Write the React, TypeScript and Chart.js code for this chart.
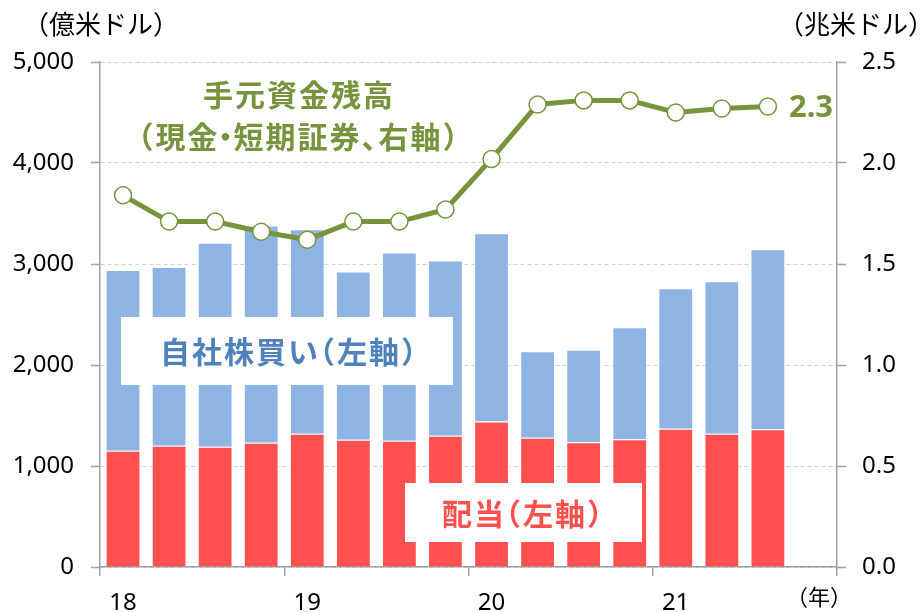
import React, { useEffect, useRef } from "react";
import { Chart, registerables } from "chart.js";

Chart.register(...registerables);

const categories = [
  "18Q1", "18Q2", "18Q3", "18Q4",
  "19Q1", "19Q2", "19Q3", "19Q4",
  "20Q1", "20Q2", "20Q3", "20Q4",
  "21Q1", "21Q2", "21Q3", "21Q4",
];
const yearLabels = ["18", "19", "20", "21"];
const dividends = [1150, 1200, 1190, 1230, 1320, 1260, 1250, 1300, 1440, 1280, 1235, 1265, 1370, 1320, 1365, null];
const buybacks = [1790, 1770, 2020, 2150, 2025, 1665, 1865, 1735, 1865, 855, 915, 1110, 1390, 1510, 1780, null];
const cashHoldings = [1.84, 1.71, 1.71, 1.66, 1.62, 1.71, 1.71, 1.77, 2.02, 2.29, 2.31, 2.31, 2.25, 2.27, 2.28, null];

const leftUnit = "（億米ドル）";
const rightUnit = "（兆米ドル）";
const xUnit = "（年）";
const cashTitle1 = "手元資金残高";
const cashTitle2 = "（現金・短期証券、右軸）";
const buybackLabel = "自社株買い（左軸）";
const dividendLabel = "配当（左軸）";
const lastCashLabel = "2.3";

const RED = "#FF5050";
const BLUE = "#8EB4E3";
const GREEN = "#77933C";
const BLUE_TEXT = "#4F81BD";
const AXIS = "#a0a0a0";
const GRID = "#d0d0d0";
const CJK = "'Noto Sans CJK JP', 'Noto Sans', sans-serif";
const LATIN = "'Noto Sans', 'DejaVu Sans', sans-serif";

// proportional trimming (in em) for full-width punctuation: [left, right]
const TRIM: Record<string, [number, number]> = {
  "（": [0.5, 0],
  "）": [0, 0.5],
  "・": [0.3, 0.3],
  "、": [0, 0.5],
};

function drawProportional(
  ctx: CanvasRenderingContext2D,
  text: string,
  cx: number,
  cy: number,
  size: number,
  spacing: number
) {
  const chars = Array.from(text);
  const items = chars.map((ch) => {
    const w = ctx.measureText(ch).width;
    const [l, r] = TRIM[ch] || [0, 0];
    return { ch, w, l: l * size, r: r * size };
  });
  let total = 0;
  items.forEach((it, i) => {
    total += it.w - it.l - it.r;
    if (i < items.length - 1) total += spacing;
  });
  let x = cx - total / 2;
  ctx.textAlign = "left";
  ctx.textBaseline = "middle";
  items.forEach((it) => {
    ctx.fillText(it.ch, x - it.l, cy);
    x += it.w - it.l - it.r + spacing;
  });
}

const annotationPlugin = {
  id: "annotations",
  afterDatasetsDraw(chart: any) {
    const ctx = chart.ctx as CanvasRenderingContext2D;
    ctx.save();
    // white label boxes
    ctx.fillStyle = "#ffffff";
    ctx.fillRect(121, 317, 332, 68);
    ctx.fillRect(405, 483, 237, 59);

    ctx.font = `bold 30px ${CJK}`;
    ctx.fillStyle = BLUE_TEXT;
    drawProportional(ctx, buybackLabel, 288, 352, 30, 2);
    ctx.fillStyle = RED;
    drawProportional(ctx, dividendLabel, 522, 514, 30, 2);
    ctx.fillStyle = GREEN;
    drawProportional(ctx, cashTitle1, 298, 95, 30, 2);
    drawProportional(ctx, cashTitle2, 298, 137, 30, 2);

    // last value label next to final point
    const meta = chart.getDatasetMeta(2);
    let lastIdx = -1;
    cashHoldings.forEach((v, i) => { if (v !== null) lastIdx = i; });
    const pt = meta.data[lastIdx];
    if (pt) {
      ctx.textAlign = "left";
      ctx.textBaseline = "middle";
      ctx.font = `bold 31px ${LATIN}`;
      ctx.fillStyle = GREEN;
      ctx.fillText(lastCashLabel, pt.x + 21, pt.y + 2);
    }

    // unit labels
    ctx.fillStyle = "#000";
    ctx.textAlign = "center";
    ctx.textBaseline = "middle";
    ctx.font = `26px ${CJK}`;
    ctx.fillText(leftUnit, 101, 24);
    ctx.fillText(rightUnit, 856, 24);
    ctx.font = `22px ${CJK}`;
    ctx.fillText(xUnit, 819, 597);
    ctx.restore();
  },
};

export default function App() {
  const ref = useRef<HTMLCanvasElement | null>(null);
  useEffect(() => {
    if (!ref.current) return;
    const chart = new Chart(ref.current, {
      type: "bar",
      data: {
        labels: categories,
        datasets: [
          {
            type: "bar",
            label: "配当",
            data: dividends as any,
            backgroundColor: RED,
            borderColor: "rgba(255,255,255,0.75)",
            borderWidth: 1,
            yAxisID: "y",
            stack: "s",
            order: 2,
            barPercentage: 0.755,
            categoryPercentage: 1,
          },
          {
            type: "bar",
            label: "自社株買い",
            data: buybacks as any,
            backgroundColor: BLUE,
            borderColor: "rgba(255,255,255,0.75)",
            borderWidth: 1,
            yAxisID: "y",
            stack: "s",
            order: 2,
            barPercentage: 0.755,
            categoryPercentage: 1,
          },
          {
            type: "line",
            label: "手元資金残高",
            data: cashHoldings as any,
            borderColor: GREEN,
            borderWidth: 5,
            pointRadius: 8.5,
            pointBorderWidth: 1.5,
            pointBackgroundColor: "#ffffff",
            pointBorderColor: GREEN,
            yAxisID: "y1",
            order: 0,
            tension: 0,
          } as any,
        ],
      },
      options: {
        responsive: false,
        animation: false,
        devicePixelRatio: 1,
        layout: { padding: { top: 62, left: 0, right: 0, bottom: 0 } },
        plugins: {
          legend: { display: false },
          tooltip: { enabled: false },
        },
        scales: {
          x: {
            type: "category",
            stacked: true,
            offset: true,
            grid: {
              offset: true,
              drawOnChartArea: false,
              drawTicks: true,
              tickLength: 9,
              color: (c: any) =>
                c.index === undefined || c.index % 4 === 0 ? AXIS : "rgba(0,0,0,0)",
              lineWidth: 1.5,
            },
            border: { color: AXIS, width: 1.5 },
            ticks: {
              autoSkip: false,
              maxRotation: 0,
              padding: 13,
              color: "#000",
              font: { family: LATIN, size: 24 },
              callback: (_v: any, i: number) => (i % 4 === 0 ? yearLabels[i / 4] : ""),
            },
            afterFit: (s: any) => { s.height = 45; },
          },
          y: {
            type: "linear",
            position: "left",
            stacked: true,
            min: 0,
            max: 5000,
            ticks: {
              stepSize: 1000,
              padding: 17,
              color: "#000",
              font: { family: LATIN, size: 24 },
              callback: (v: any) => Number(v).toLocaleString("en-US"),
            },
            grid: {
              color: GRID,
              lineWidth: 1,
              tickLength: 9,
              tickColor: AXIS,
              tickWidth: 1.5,
            },
            border: { color: AXIS, width: 1.5, dash: [4, 3] },
            afterFit: (s: any) => { s.width = 100; },
          },
          y1: {
            type: "linear",
            position: "right",
            min: 0,
            max: 2.5,
            ticks: {
              stepSize: 0.5,
              padding: 16,
              color: "#000",
              font: { family: LATIN, size: 24 },
              callback: (v: any) => Number(v).toFixed(1),
            },
            grid: {
              drawOnChartArea: false,
              tickLength: 9,
              color: AXIS,
              tickColor: AXIS,
              tickWidth: 1.5,
            },
            border: { color: AXIS, width: 1.5 },
            afterFit: (s: any) => { s.width = 83; },
          },
        },
      } as any,
      plugins: [annotationPlugin],
    });
    return () => chart.destroy();
  }, []);
  return (
    <canvas
      ref={ref}
      width={920}
      height={612}
      style={{ position: "absolute", left: 0, top: 0, width: 920, height: 612 }}
    />
  );
}
